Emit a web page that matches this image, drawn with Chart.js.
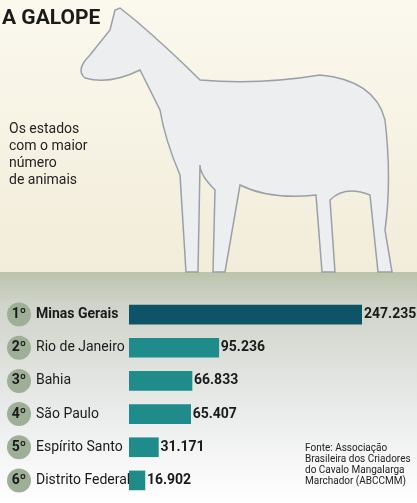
<!DOCTYPE html>
<html><head><meta charset="utf-8">
<script src="https://cdn.jsdelivr.net/npm/chart.js@4"></script>
<style>html,body{margin:0;padding:0;background:#fff}#wrap{width:417px;height:503px}</style>
</head><body><div id="wrap"><canvas id="c" width="417" height="503"></canvas></div>
<script>
const states = ['Minas Gerais', 'Rio de Janeiro', 'Bahia', 'São Paulo', 'Espírito Santo', 'Distrito Federal'];
const ranks = ['1º', '2º', '3º', '4º', '5º', '6º'];
const animals = [247235, 95236, 66833, 65407, 31171, 16902];
const valueLabels = ['247.235', '95.236', '66.833', '65.407', '31.171', '16.902'];

const font = 'Roboto, sans-serif';

// background, horse and texts
const decor = {
  id: 'decor',
  beforeDraw(chart) {
    const ctx = chart.ctx;
    let g = ctx.createLinearGradient(0, 0, 0, 290);
    g.addColorStop(0, '#fbf8ee'); g.addColorStop(1, '#f1ecd8');
    ctx.fillStyle = g; ctx.fillRect(0, 0, 417, 290);
    g = ctx.createLinearGradient(0, 268, 0, 503);
    g.addColorStop(0, '#b9c2a8'); g.addColorStop(0.15, '#cfd3c9'); g.addColorStop(0.6, '#e9ebea'); g.addColorStop(1, '#ffffff');
    ctx.fillStyle = g; ctx.fillRect(0, 272, 417, 231);

    // rough horse
    ctx.save();
    ctx.fillStyle = '#eceef0'; ctx.strokeStyle = '#9aa0a6'; ctx.lineWidth = 1.5;
    ctx.beginPath();
    ctx.moveTo(120, 8); ctx.lineTo(135, 20); ctx.quadraticCurveTo(170, 50, 200, 80);
    ctx.quadraticCurveTo(260, 85, 320, 75); ctx.quadraticCurveTo(375, 80, 385, 120);
    ctx.quadraticCurveTo(392, 180, 385, 230); ctx.lineTo(392, 272); ctx.lineTo(378, 272);
    ctx.lineTo(370, 195); ctx.quadraticCurveTo(345, 185, 330, 200); ctx.lineTo(335, 272);
    ctx.lineTo(322, 272); ctx.lineTo(316, 195); ctx.quadraticCurveTo(270, 200, 240, 185);
    ctx.lineTo(225, 272); ctx.lineTo(213, 272); ctx.lineTo(215, 190); ctx.quadraticCurveTo(200, 175, 200, 165);
    ctx.lineTo(198, 272); ctx.lineTo(186, 272); ctx.lineTo(180, 175); ctx.quadraticCurveTo(165, 140, 160, 110);
    ctx.quadraticCurveTo(150, 90, 140, 70); ctx.quadraticCurveTo(110, 85, 85, 78);
    ctx.quadraticCurveTo(75, 70, 90, 55); ctx.lineTo(110, 30); ctx.lineTo(115, 10);
    ctx.closePath(); ctx.fill(); ctx.stroke();
    ctx.restore();

    ctx.fillStyle = '#1a1a1a';
    ctx.font = 'bold 21px ' + font; ctx.textBaseline = 'alphabetic';
    ctx.fillText('A GALOPE', 2, 24);
    ctx.font = '14px ' + font; ctx.fillStyle = '#222';
    ['Os estados', 'com o maior', 'número', 'de animais'].forEach((t, i) => ctx.fillText(t, 9, 133 + i * 17));
  },
  afterDatasetsDraw(chart) {
    const ctx = chart.ctx;
    const meta = chart.getDatasetMeta(0);
    ctx.textBaseline = 'middle';
    meta.data.forEach((bar, i) => {
      const y = bar.y;
      ctx.fillStyle = '#9fae97';
      ctx.beginPath(); ctx.arc(19, y, 12, 0, Math.PI * 2); ctx.fill();
      ctx.fillStyle = '#1a1a1a'; ctx.font = 'bold 14px ' + font; ctx.textAlign = 'center';
      ctx.fillText(ranks[i], 19, y);
      ctx.textAlign = 'left';
      ctx.font = (i === 0 ? 'bold ' : '') + '14px ' + font;
      ctx.fillText(states[i], 36, y);
      ctx.font = 'bold 14px ' + font;
      ctx.fillText(valueLabels[i], bar.x + 2, y);
    });
    ctx.fillStyle = '#222'; ctx.font = '10px ' + font; ctx.textBaseline = 'alphabetic';
    ['Fonte: Associação', 'Brasileira dos Criadores', 'do Cavalo Mangalarga', 'Marchador (ABCCMM)']
      .forEach((t, i) => ctx.fillText(t, 305, 451 + i * 11));
  }
};

new Chart(document.getElementById('c'), {
  type: 'bar',
  data: {
    labels: states,
    datasets: [{
      data: animals,
      backgroundColor: animals.map((v, i) => i === 0 ? '#0d5566' : '#1f8b8b'),
      barThickness: 19
    }]
  },
  options: {
    indexAxis: 'y',
    responsive: false,
    animation: false,
    layout: { padding: { left: 129, right: 55, top: 298, bottom: 6 } },
    scales: {
      x: { display: false, min: 0, max: 247235 },
      y: { display: false }
    },
    plugins: { legend: { display: false }, tooltip: { enabled: false } }
  },
  plugins: [decor]
});
</script></body></html>
